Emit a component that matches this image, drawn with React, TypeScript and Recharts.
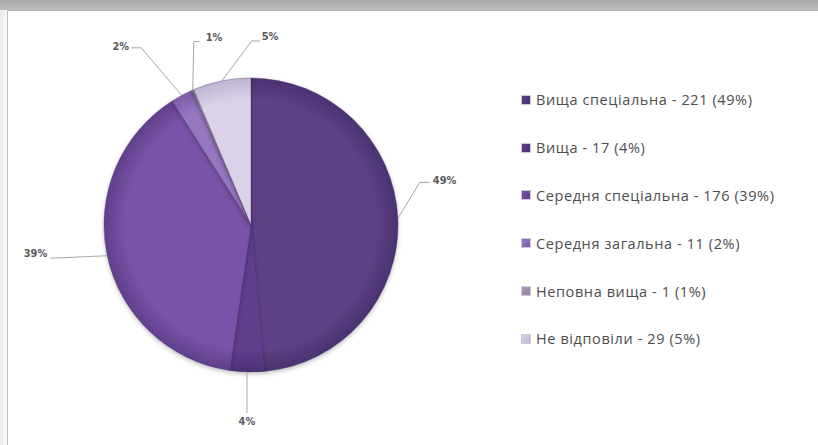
import React from 'react';
import { PieChart, Pie, Cell, Legend } from 'recharts';

const categories = ['Вища спеціальна', 'Вища', 'Середня спеціальна', 'Середня загальна', 'Неповна вища', 'Не відповіли'];
const counts = [221, 17, 176, 11, 1, 29];
const percentLabels = ['49%', '4%', '39%', '2%', '1%', '5%'];

const data = categories.map((name, i) => ({
  name,
  value: counts[i],
  legend: `${name} - ${counts[i]} (${percentLabels[i]})`,
}));

const sliceColors = ['#5d4185', '#5f3e8c', '#7953a7', '#9677c2', '#a99cbc', '#dbd2e9'];
const sliceDark = ['#4a3270', '#4c3176', '#5f3f8c', '#7a5ca8', '#8e82a3', '#bfb4d2'];

// label leader layout: offsets relative to the slice's outer-edge point at its mid angle
const labelLayout = [
  { elbow: [22, -36], end: [32, -36], text: [35, -38], anchor: 'start' },
  { elbow: [0, 41], end: [0, 41], text: [0, 50], anchor: 'middle' },
  { elbow: [-57, 2.5], end: [-57, 2.5], text: [-60, -2], anchor: 'end' },
  { elbow: [-40.6, -47.5], end: [-50.6, -47.5], text: [-52.6, -48.5], anchor: 'end' },
  { elbow: [1, -48.5], end: [7, -48.5], text: [13, -52.5], anchor: 'start' },
  { elbow: [30, -40], end: [38, -40], text: [40, -44], anchor: 'start' },
];

const RAD = Math.PI / 180;

const renderLabel = (props: any) => {
  const { cx, cy, midAngle, outerRadius, index } = props;
  const ex = cx + outerRadius * Math.cos(-midAngle * RAD);
  const ey = cy + outerRadius * Math.sin(-midAngle * RAD);
  const l = labelLayout[index];
  const p1x = ex + l.elbow[0];
  const p1y = ey + l.elbow[1];
  const p2x = ex + l.end[0];
  const p2y = ey + l.end[1];
  return (
    <g key={`lbl-${index}`}>
      <polyline
        points={`${ex},${ey} ${p1x},${p1y} ${p2x},${p2y}`}
        fill="none"
        stroke="#a6a6a6"
        strokeWidth={1}
      />
      <text
        x={ex + l.text[0]}
        y={ey + l.text[1]}
        textAnchor={l.anchor as any}
        dominantBaseline="central"
        fontFamily="'DejaVu Sans', sans-serif"
        fontWeight="bold"
        fontSize={9.8}
        fill="#595959"
      >
        {percentLabels[index]}
      </text>
    </g>
  );
};

const renderLegend = (props: any) => {
  const { payload } = props;
  return (
    <div style={{ fontFamily: "'Open Sans', sans-serif", fontSize: 14.5, color: '#4d4d4d' }}>
      {(payload || []).map((entry: any, i: number) => (
        <div key={`leg-${i}`} style={{ height: 47.8, display: 'flex', alignItems: 'center', whiteSpace: 'nowrap' }}>
          <span
            style={{
              display: 'inline-block',
              width: 8,
              height: 8,
              marginRight: 5,
              background: `linear-gradient(135deg, ${sliceColors[i]}, ${sliceDark[i]})`,
              border: '1px solid #d0c8dc',
            }}
          />
          <span style={{ letterSpacing: 0.6 }}>{data[i].legend}</span>
        </div>
      ))}
    </div>
  );
};

export default function App() {
  return (
    <div style={{ position: 'absolute', left: 0, top: 0, width: 818, height: 445, background: '#ffffff', overflow: 'hidden' }}>
      <div style={{ position: 'absolute', left: 0, top: 0, width: 818, height: 10, background: 'linear-gradient(180deg, #a9a9a9, #bebebe)' }} />
      <div style={{ position: 'absolute', left: 0, top: 10, width: 7, height: 435, background: 'linear-gradient(90deg, #ececec, #f8f8f8)' }} />
      <div style={{ position: 'absolute', left: 7, top: 10, width: 811, height: 435, borderLeft: '1px solid #bdbdbd', borderTop: '1px solid #b5b5b5', background: '#ffffff' }} />
      <div style={{ position: 'absolute', left: 0, top: 0 }}>
        <style>{`.recharts-pie-sector path { filter: drop-shadow(0px 2px 2px rgba(0,0,0,0.25)); }`}</style>
        <PieChart width={818} height={445} margin={{ top: 0, right: 0, bottom: 0, left: 0 }}>
          <defs>
            {sliceColors.map((c, i) => (
              <radialGradient key={`g${i}`} id={`sg${i}`} gradientUnits="userSpaceOnUse" cx={251} cy={225} r={147}>
                <stop offset="0%" stopColor={c} />
                <stop offset="85%" stopColor={c} />
                <stop offset="100%" stopColor={sliceDark[i]} />
              </radialGradient>
            ))}
          </defs>
          <Pie
            data={data}
            dataKey="value"
            nameKey="name"
            cx={251}
            cy={225}
            outerRadius={147}
            startAngle={90}
            endAngle={-270}
            isAnimationActive={false}
            label={renderLabel}
            labelLine={false}
            stroke="#3f2a60"
            strokeOpacity={0.35}
            strokeWidth={1}
          >
            {data.map((d, i) => (
              <Cell key={`c${i}`} fill={`url(#sg${i})`} />
            ))}
          </Pie>
          <Legend
            layout="vertical"
            align="right"
            verticalAlign="top"
            content={renderLegend}
            wrapperStyle={{ position: 'absolute', left: 521, top: 76, width: 290 }}
          />
        </PieChart>
      </div>
    </div>
  );
}
